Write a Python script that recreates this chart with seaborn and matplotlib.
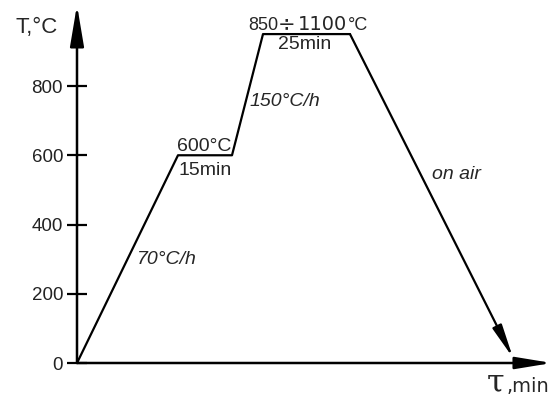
import matplotlib
matplotlib.use("Agg")
import matplotlib.pyplot as plt
import seaborn as sns
import pandas as pd

# heat treatment profile (time in arbitrary units, temperature in C)
time = [0, 101, 155, 186, 273, 436]
temp = [0, 600, 600, 950, 950, 15]
y_ticks = [0, 200, 400, 600, 800]

sns.set_style("white")
plt.rcParams["font.family"] = ["Liberation Sans", "DejaVu Sans"]

fig = plt.figure(figsize=(5.52, 3.97), dpi=100)
ax = fig.add_axes([77 / 552, 34 / 397, 475 / 552, 358 / 397])

df = pd.DataFrame({"time": time, "temp": temp})
sns.lineplot(data=df.iloc[:-1], x="time", y="temp", ax=ax, color="black",
             linewidth=1.6, sort=False)
# cooling segment ends with an arrow head
ax.annotate("", xy=(time[-1], temp[-1]), xytext=(time[-2], temp[-2]),
            arrowprops=dict(arrowstyle="-|>,head_length=2.0,head_width=0.3",
                            color="black", lw=1.6, shrinkA=0, shrinkB=0))

ax.set_xlim(0, 475)
ax.set_ylim(0, 1034)
for s in ax.spines.values():
    s.set_visible(False)

# axes drawn as arrows
ax.annotate("", xy=(475, 0), xytext=(0, 0),
            arrowprops=dict(arrowstyle="-|>,head_length=2.2,head_width=0.36",
                            color="black", lw=1.8, shrinkA=0, shrinkB=0),
            annotation_clip=False)
ax.annotate("", xy=(0, 1034), xytext=(0, 0),
            arrowprops=dict(arrowstyle="-|>,head_length=2.5,head_width=0.42",
                            color="black", lw=1.8, shrinkA=0, shrinkB=0),
            annotation_clip=False)

ax.set_xticks([])
ax.set_yticks(y_ticks)
ax.set_yticklabels([str(v) for v in y_ticks], fontsize=13.5, color="#222222")
ax.tick_params(axis="y", direction="inout", length=14, width=1.6, pad=3,
               left=True, color="black")
ax.set_xlabel("")
ax.set_ylabel("")

fig.text(15 / 552, 1 - 27 / 397, "T,°C", fontsize=16, va="center", ha="left")
fig.text(487 / 552, 1 - 383 / 397, "τ", fontsize=23, va="center", ha="left",
         family="DejaVu Serif")
fig.text(507 / 552, 1 - 386 / 397, ",min", fontsize=14, va="center", ha="left",
         family="DejaVu Sans")

ax.text(127, 624, "600°C", fontsize=14, ha="center", va="center")
ax.text(128, 557, "15min", fontsize=14, ha="center", va="center")
ax.text(171, 962, "850", fontsize=13, ha="left", va="baseline")
ax.text(210, 962, "÷", fontsize=15, ha="center", va="baseline", family="DejaVu Sans")
ax.text(221, 962, "1100", fontsize=14, ha="left", va="baseline", family="DejaVu Sans")
ax.text(271, 962, "°C", fontsize=13, ha="left", va="baseline")
ax.text(228, 921, "25min", fontsize=14, ha="center", va="center")
ax.text(173, 754, "150°C/h", fontsize=14, ha="left", va="center", style="italic")
ax.text(60, 300, "70°C/h", fontsize=14, ha="left", va="center", style="italic")
ax.text(355, 543, "on air", fontsize=14, ha="left", va="center", style="italic")

fig.savefig("out.png", dpi=100)
